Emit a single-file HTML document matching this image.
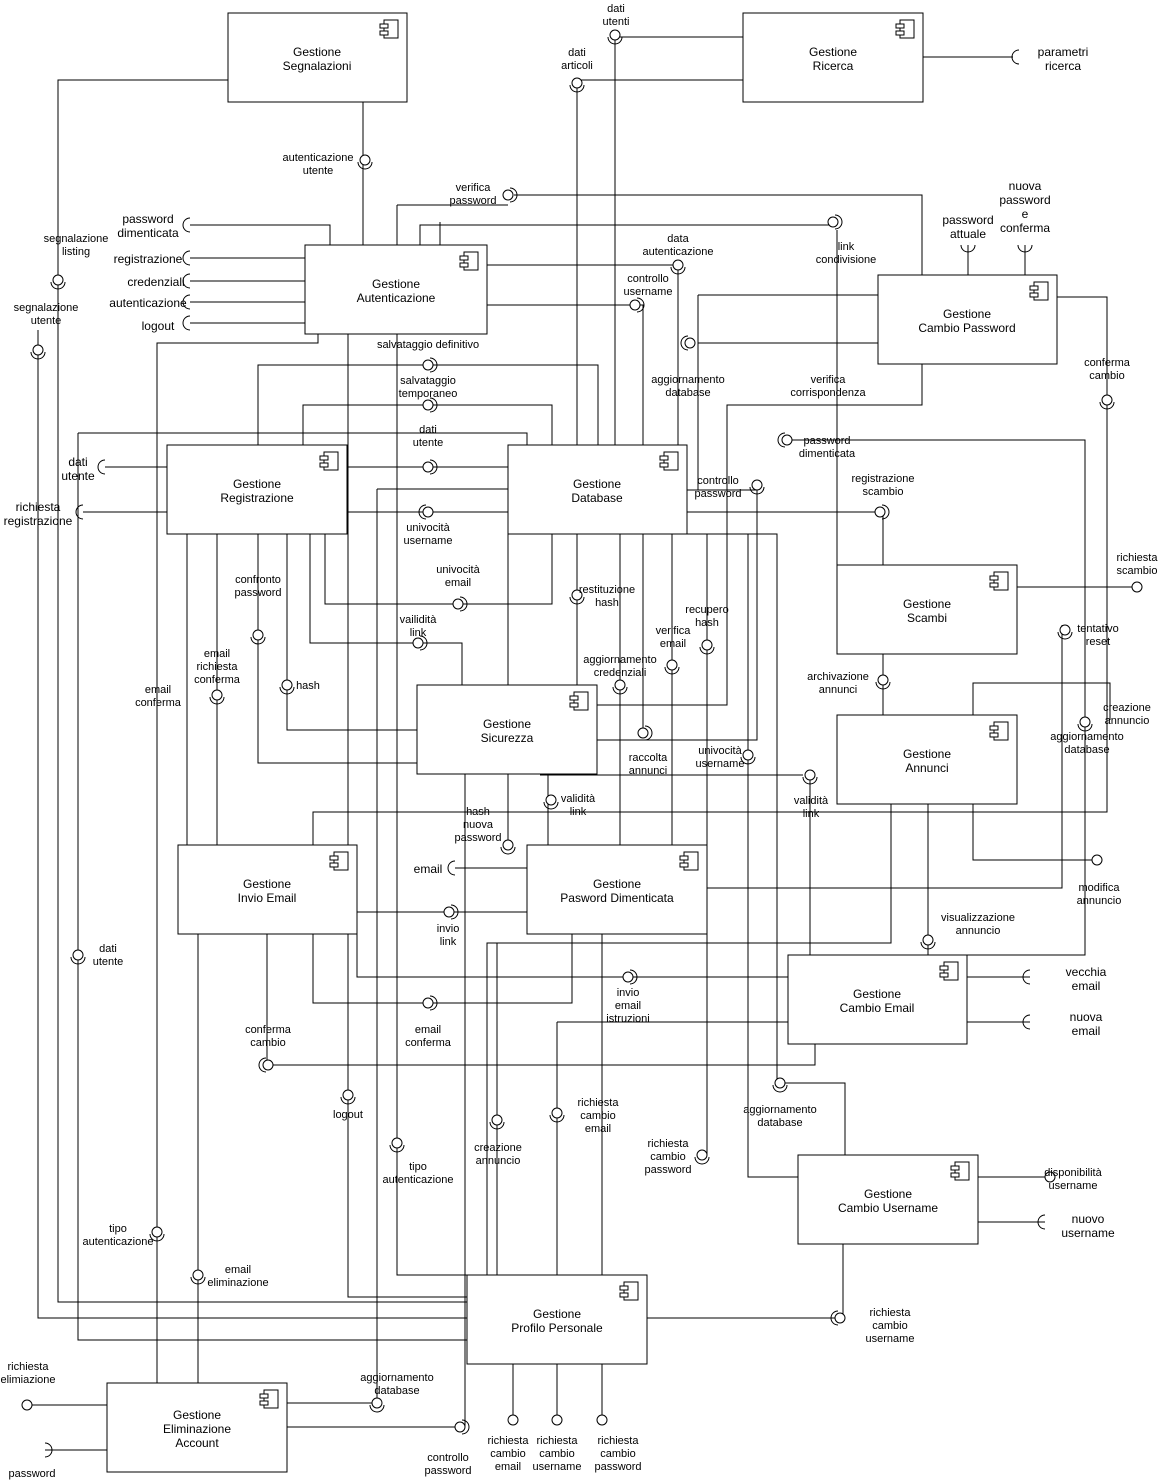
<!DOCTYPE html>
<html><head><meta charset="utf-8">
<style>
html,body{margin:0;padding:0;background:#fff;}
svg{display:block;}
text{font-family:"Liberation Sans",sans-serif;font-size:11px;fill:#000;text-anchor:middle;}
.t{font-size:12px;}
.l{fill:none;stroke:#000;stroke-width:1;}
.b{fill:#fff;stroke:#000;stroke-width:1;}
</style></head><body>
<svg width="1159" height="1480" viewBox="0 0 1159 1480" xmlns="http://www.w3.org/2000/svg">
<defs>
<g id="bs"><circle cx="0" cy="0" r="5" fill="#fff" stroke="#000"/><path d="M2,-7 A7,7 0 0 1 2,7" fill="none" stroke="#000"/></g>
<g id="bsl"><circle cx="0" cy="0" r="5" fill="#fff" stroke="#000"/><path d="M-2,-7 A7,7 0 0 0 -2,7" fill="none" stroke="#000"/></g>
<g id="bsd"><circle cx="0" cy="0" r="5" fill="#fff" stroke="#000"/><path d="M-7,2 A7,7 0 0 0 7,2" fill="none" stroke="#000"/></g>
<g id="sk"><path d="M6,-7 A7,7 0 0 0 6,7" fill="none" stroke="#000"/></g>
<g id="ski"><path d="M-6,-7 A7,7 0 0 1 -6,7" fill="none" stroke="#000"/></g>
<g id="ic"><rect x="0" y="0" width="14" height="18" fill="#fff" stroke="#000"/><rect x="-4" y="4" width="8" height="4" fill="#fff" stroke="#000"/><rect x="-4" y="11" width="8" height="4" fill="#fff" stroke="#000"/></g>
</defs>

<g class="l">
<!-- Segnalazioni -->
<path d="M363,102V245"/>
<path d="M228,80H58V1302H467"/>
<path d="M38,330V1318H467"/>
<!-- Ricerca -->
<path d="M743,37H615V445"/>
<path d="M743,80H577V445"/>
<path d="M923,57H1013"/>
<!-- Autenticazione inputs -->
<path d="M190,225H330V245"/>
<path d="M190,258H305M190,281H305M190,302H305M190,323H305"/>
<path d="M397,205H508M514,195H922V275"/>
<path d="M397,205V1275H467"/>
<path d="M420,245V225H830M837,230V565"/>
<path d="M440,222V245"/>
<path d="M487,265H678V445"/>
<path d="M487,305H643V733"/>
<path d="M698,295H878M698,343H878M698,295V490"/>
<path d="M318,334V343H157V1383"/>
<path d="M348,334V1297H467"/>
<!-- salvataggi -->
<path d="M258,445V365H598V445"/>
<path d="M303,445V405H552V604H325V534"/>
<path d="M347,467H508"/>
<path d="M78,433H527V445M78,433V1340H467"/>
<path d="M347,512H508"/>
<path d="M105,467H167M83,512H167"/>
<path d="M377,489H508M377,489V1403"/>
<path d="M287,1403H377"/>
<path d="M465,774V1427M287,1427H455"/>
<!-- Registrazione bottom -->
<path d="M187,534V845M217,534V845"/>
<path d="M258,534V763H417"/>
<path d="M287,534V730H417"/>
<path d="M310,534V643H462V685"/>
<!-- Database bottom -->
<path d="M508,534V845"/>
<path d="M577,534V685"/>
<path d="M620,534V845"/>
<path d="M672,534V845"/>
<path d="M707,534V1155"/>
<path d="M687,534H777V1083H845V1155"/>
<path d="M687,512H883V565"/>
<path d="M687,490H757V740H597"/>
<path d="M597,705H727V405H922V364"/>
<path d="M787,440H1085V955H967"/>
<path d="M1057,297H1107V812H313V845"/>
<path d="M1062,625V888H707"/>
<path d="M1017,587H1137"/>
<path d="M883,654V715"/>
<path d="M973,715V683H1110V720"/>
<path d="M973,804V860H1097"/>
<path d="M748,534V1177H798"/>
<path d="M540,775H803M810,780V955"/>
<path d="M891,804V943H487V1275"/>
<path d="M928,804V955"/>
<path d="M548,774V845"/>
<!-- Invio email -->
<path d="M357,912H527M455,868H527"/>
<path d="M267,934V1065H815V1044"/>
<path d="M313,934V1003H572V934"/>
<path d="M357,934V977H788"/>
<path d="M198,934V1383"/>
<path d="M497,943V1275"/>
<path d="M557,1022H788M557,1022V1275"/>
<path d="M602,934V1275"/>
<path d="M967,977H1030M967,1022H1030"/>
<path d="M978,1177H1045M978,1222H1045"/>
<path d="M843,1244V1318H647"/>
<path d="M513,1364V1420M557,1364V1420M602,1364V1420"/>
<path d="M27,1405H107M45,1450H107"/>
<path d="M968,245V275M1025,245V275"/>
</g>

<!-- boxes -->
<g class="b">
<rect x="228" y="13" width="179" height="89"/>
<rect x="743" y="13" width="180" height="89"/>
<rect x="305" y="245" width="182" height="89"/>
<rect x="878" y="275" width="179" height="89"/>
<rect x="167" y="445" width="180" height="89"/>
<rect x="508" y="445" width="179" height="89"/>
<rect x="837" y="565" width="180" height="89"/>
<rect x="417" y="685" width="180" height="89"/>
<rect x="837" y="715" width="180" height="89"/>
<rect x="178" y="845" width="179" height="89"/>
<rect x="527" y="845" width="180" height="89"/>
<rect x="788" y="955" width="179" height="89"/>
<rect x="798" y="1155" width="180" height="89"/>
<rect x="467" y="1275" width="180" height="89"/>
<rect x="107" y="1383" width="180" height="89"/>
</g>
<use href="#ic" x="384" y="20"/><use href="#ic" x="900" y="20"/><use href="#ic" x="464" y="252"/>
<use href="#ic" x="1034" y="282"/><use href="#ic" x="324" y="452"/><use href="#ic" x="664" y="452"/>
<use href="#ic" x="994" y="572"/><use href="#ic" x="574" y="692"/><use href="#ic" x="994" y="722"/>
<use href="#ic" x="334" y="852"/><use href="#ic" x="684" y="852"/><use href="#ic" x="944" y="962"/>
<use href="#ic" x="955" y="1162"/><use href="#ic" x="624" y="1282"/><use href="#ic" x="264" y="1390"/>

<!-- interface symbols -->
<use href="#bsd" x="365" y="160"/><use href="#bsd" x="58" y="280"/><use href="#bsd" x="38" y="350"/>
<use href="#bsd" x="615" y="35"/><use href="#bsd" x="577" y="83"/>
<use href="#sk" x="1013" y="57"/>
<use href="#sk" x="184" y="225"/><use href="#sk" x="184" y="258"/><use href="#sk" x="184" y="281"/><use href="#sk" x="184" y="302"/><use href="#sk" x="184" y="323"/>
<use href="#bs" x="508" y="195"/><use href="#bs" x="833" y="222"/><use href="#bsd" x="678" y="265"/>
<use href="#bs" x="635" y="305"/><use href="#bsl" x="690" y="343"/>
<use href="#bs" x="428" y="365"/><use href="#bs" x="428" y="405"/><use href="#bs" x="428" y="467"/>
<use href="#bsl" x="428" y="512"/><use href="#bs" x="458" y="604"/><use href="#bs" x="418" y="643"/>
<use href="#sk" x="99" y="467"/><use href="#sk" x="77" y="512"/>
<use href="#bsd" x="757" y="485"/><use href="#bsl" x="787" y="440"/><use href="#bs" x="880" y="512"/>
<use href="#bsd" x="1107" y="400"/><use href="#bsd" x="1065" y="630"/><use href="#bsd" x="1085" y="722"/>
<use href="#bsd" x="883" y="680"/><use href="#bsd" x="577" y="595"/><use href="#bsd" x="620" y="685"/>
<use href="#bsd" x="672" y="665"/><use href="#bsd" x="707" y="645"/><use href="#bs" x="643" y="733"/>
<use href="#bsd" x="748" y="755"/><use href="#bsd" x="810" y="775"/><use href="#bsd" x="551" y="800"/>
<use href="#bsd" x="258" y="635"/><use href="#bsd" x="217" y="695"/><use href="#bsd" x="287" y="685"/>
<use href="#bsd" x="508" y="845"/><use href="#sk" x="449" y="868"/><use href="#bs" x="449" y="912"/>
<use href="#bs" x="428" y="1003"/><use href="#bs" x="628" y="977"/><use href="#bsd" x="928" y="940"/>
<use href="#bsl" x="268" y="1065"/><use href="#bsd" x="780" y="1083"/><use href="#bsd" x="78" y="955"/>
<use href="#bsd" x="348" y="1095"/><use href="#bsd" x="397" y="1143"/><use href="#bsd" x="497" y="1120"/>
<use href="#bsd" x="557" y="1113"/><use href="#bsd" x="702" y="1155"/><use href="#bsd" x="157" y="1232"/>
<use href="#bsd" x="198" y="1275"/><use href="#bsd" x="377" y="1403"/><use href="#bs" x="460" y="1427"/>
<use href="#bsl" x="840" y="1318"/>
<circle cx="1097" cy="860" r="5" fill="#fff" stroke="#000"/><circle cx="1137" cy="587" r="5" fill="#fff" stroke="#000"/>
<circle cx="1050" cy="1177" r="5" fill="#fff" stroke="#000"/><circle cx="27" cy="1405" r="5" fill="#fff" stroke="#000"/>
<circle cx="513" cy="1420" r="5" fill="#fff" stroke="#000"/><circle cx="557" cy="1420" r="5" fill="#fff" stroke="#000"/><circle cx="602" cy="1420" r="5" fill="#fff" stroke="#000"/>
<use href="#sk" x="1024" y="977"/><use href="#sk" x="1024" y="1022"/><use href="#sk" x="1039" y="1222"/>
<use href="#ski" x="51" y="1450"/>
<path d="M961,245A7,7 0 0 0 975,245M1018,245A7,7 0 0 0 1032,245" fill="none" stroke="#000"/>

<!-- box titles -->
<g class="t">
<text class="t" x="317" y="56">Gestione</text><text class="t" x="317" y="70">Segnalazioni</text>
<text class="t" x="833" y="56">Gestione</text><text class="t" x="833" y="70">Ricerca</text>
<text class="t" x="396" y="288">Gestione</text><text class="t" x="396" y="302">Autenticazione</text>
<text class="t" x="967" y="318">Gestione</text><text class="t" x="967" y="332">Cambio Password</text>
<text class="t" x="257" y="488">Gestione</text><text class="t" x="257" y="502">Registrazione</text>
<text class="t" x="597" y="488">Gestione</text><text class="t" x="597" y="502">Database</text>
<text class="t" x="927" y="608">Gestione</text><text class="t" x="927" y="622">Scambi</text>
<text class="t" x="507" y="728">Gestione</text><text class="t" x="507" y="742">Sicurezza</text>
<text class="t" x="927" y="758">Gestione</text><text class="t" x="927" y="772">Annunci</text>
<text class="t" x="267" y="888">Gestione</text><text class="t" x="267" y="902">Invio Email</text>
<text class="t" x="617" y="888">Gestione</text><text class="t" x="617" y="902">Pasword Dimenticata</text>
<text class="t" x="877" y="998">Gestione</text><text class="t" x="877" y="1012">Cambio Email</text>
<text class="t" x="888" y="1198">Gestione</text><text class="t" x="888" y="1212">Cambio Username</text>
<text class="t" x="557" y="1318">Gestione</text><text class="t" x="557" y="1332">Profilo Personale</text>
<text class="t" x="197" y="1419">Gestione</text><text class="t" x="197" y="1433">Eliminazione</text><text class="t" x="197" y="1447">Account</text>
</g>

<!-- labels -->
<text x="318" y="161">autenticazione</text><text x="318" y="174">utente</text>
<text x="616" y="12">dati</text><text x="616" y="25">utenti</text>
<text x="577" y="56">dati</text><text x="577" y="69">articoli</text>
<text class="t" x="1063" y="56">parametri</text><text class="t" x="1063" y="70">ricerca</text>
<text x="76" y="242">segnalazione</text><text x="76" y="255">listing</text>
<text x="46" y="311">segnalazione</text><text x="46" y="324">utente</text>
<text class="t" x="148" y="223">password</text><text class="t" x="148" y="237">dimenticata</text>
<text class="t" x="148" y="263">registrazione</text>
<text class="t" x="156" y="286">credenziali</text>
<text class="t" x="148" y="307">autenticazione</text>
<text class="t" x="158" y="330">logout</text>
<text x="473" y="191">verifica</text><text x="473" y="204">password</text>
<text x="846" y="250">link</text><text x="846" y="263">condivisione</text>
<text x="678" y="242">data</text><text x="678" y="255">autenticazione</text>
<text x="648" y="282">controllo</text><text x="648" y="295">username</text>
<text class="t" x="968" y="224">password</text><text class="t" x="968" y="238">attuale</text>
<text class="t" x="1025" y="190">nuova</text><text class="t" x="1025" y="204">password</text><text class="t" x="1025" y="218">e</text><text class="t" x="1025" y="232">conferma</text>
<text x="428" y="348">salvataggio definitivo</text>
<text x="428" y="384">salvataggio</text><text x="428" y="397">temporaneo</text>
<text x="688" y="383">aggiornamento</text><text x="688" y="396">database</text>
<text x="828" y="383">verifica</text><text x="828" y="396">corrispondenza</text>
<text x="1107" y="366">conferma</text><text x="1107" y="379">cambio</text>
<text x="428" y="433">dati</text><text x="428" y="446">utente</text>
<text x="827" y="444">password</text><text x="827" y="457">dimenticata</text>
<text class="t" x="78" y="466">dati</text><text class="t" x="78" y="480">utente</text>
<text class="t" x="38" y="511">richiesta</text><text class="t" x="38" y="525">registrazione</text>
<text x="718" y="484">controllo</text><text x="718" y="497">password</text>
<text x="883" y="482">registrazione</text><text x="883" y="495">scambio</text>
<text x="428" y="531">univocità</text><text x="428" y="544">username</text>
<text x="458" y="573">univocità</text><text x="458" y="586">email</text>
<text x="607" y="593">restituzione</text><text x="607" y="606">hash</text>
<text x="258" y="583">confronto</text><text x="258" y="596">password</text>
<text x="1137" y="561">richiesta</text><text x="1137" y="574">scambio</text>
<text x="418" y="623">vailidità</text><text x="418" y="636">link</text>
<text x="707" y="613">recupero</text><text x="707" y="626">hash</text>
<text x="673" y="634">verifica</text><text x="673" y="647">email</text>
<text x="620" y="663">aggiornamento</text><text x="620" y="676">credenziali</text>
<text x="1098" y="632">tentativo</text><text x="1098" y="645">reset</text>
<text x="217" y="657">email</text><text x="217" y="670">richiesta</text><text x="217" y="683">conferma</text>
<text x="838" y="680">archivazione</text><text x="838" y="693">annunci</text>
<text x="308" y="689">hash</text>
<text x="158" y="693">email</text><text x="158" y="706">conferma</text>
<text x="1127" y="711">creazione</text><text x="1127" y="724">annuncio</text>
<text x="1087" y="740">aggiornamento</text><text x="1087" y="753">database</text>
<text x="648" y="761">raccolta</text><text x="648" y="774">annunci</text>
<text x="720" y="754">univocità</text><text x="720" y="767">username</text>
<text x="478" y="815">hash</text><text x="478" y="828">nuova</text><text x="478" y="841">password</text>
<text x="578" y="802">validità</text><text x="578" y="815">link</text>
<text x="811" y="804">validità</text><text x="811" y="817">link</text>
<text class="t" x="428" y="873">email</text>
<text x="1099" y="891">modifica</text><text x="1099" y="904">annuncio</text>
<text x="978" y="921">visualizzazione</text><text x="978" y="934">annuncio</text>
<text x="448" y="932">invio</text><text x="448" y="945">link</text>
<text x="108" y="952">dati</text><text x="108" y="965">utente</text>
<text class="t" x="1086" y="976">vecchia</text><text class="t" x="1086" y="990">email</text>
<text x="628" y="996">invio</text><text x="628" y="1009">email</text><text x="628" y="1022">istruzioni</text>
<text x="428" y="1033">email</text><text x="428" y="1046">conferma</text>
<text class="t" x="1086" y="1021">nuova</text><text class="t" x="1086" y="1035">email</text>
<text x="268" y="1033">conferma</text><text x="268" y="1046">cambio</text>
<text x="348" y="1118">logout</text>
<text x="780" y="1113">aggiornamento</text><text x="780" y="1126">database</text>
<text x="598" y="1106">richiesta</text><text x="598" y="1119">cambio</text><text x="598" y="1132">email</text>
<text x="668" y="1147">richiesta</text><text x="668" y="1160">cambio</text><text x="668" y="1173">password</text>
<text x="498" y="1151">creazione</text><text x="498" y="1164">annuncio</text>
<text x="418" y="1170">tipo</text><text x="418" y="1183">autenticazione</text>
<text x="1073" y="1176">disponibilità</text><text x="1073" y="1189">username</text>
<text class="t" x="1088" y="1223">nuovo</text><text class="t" x="1088" y="1237">username</text>
<text x="118" y="1232">tipo</text><text x="118" y="1245">autenticazione</text>
<text x="238" y="1273">email</text><text x="238" y="1286">eliminazione</text>
<text x="890" y="1316">richiesta</text><text x="890" y="1329">cambio</text><text x="890" y="1342">username</text>
<text x="28" y="1370">richiesta</text><text x="28" y="1383">elimiazione</text>
<text x="397" y="1381">aggiornamento</text><text x="397" y="1394">database</text>
<text x="448" y="1461">controllo</text><text x="448" y="1474">password</text>
<text x="508" y="1444">richiesta</text><text x="508" y="1457">cambio</text><text x="508" y="1470">email</text>
<text x="557" y="1444">richiesta</text><text x="557" y="1457">cambio</text><text x="557" y="1470">username</text>
<text x="618" y="1444">richiesta</text><text x="618" y="1457">cambio</text><text x="618" y="1470">password</text>
<text x="32" y="1477">password</text>
</svg>
</body></html>
